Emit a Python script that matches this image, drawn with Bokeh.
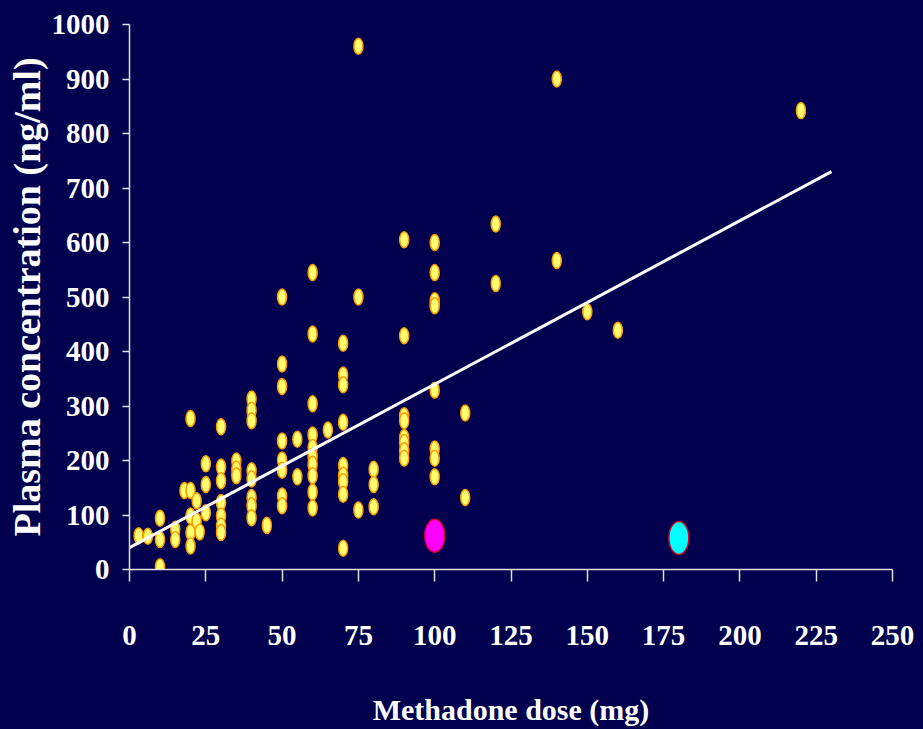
from bokeh.plotting import figure
from bokeh.models import Range1d, FixedTicker
from bokeh.embed import file_html
from bokeh.resources import INLINE

# Patient data: methadone dose (mg) vs plasma concentration (ng/ml)
dose = [3, 6, 10, 10, 10, 15, 15, 18, 20, 20, 20, 20, 20, 22, 22, 23, 25, 25, 25,
        30, 30, 30, 30, 30, 30, 30, 35, 35, 35,
        40, 40, 40, 40, 40, 40, 40, 40, 45,
        50, 50, 50, 50, 50, 50, 50, 50, 55, 55,
        60, 60, 60, 60, 60, 60, 60, 60, 60, 60, 65,
        70, 70, 70, 70, 70, 70, 70, 70, 70,
        75, 75, 75, 80, 80, 80,
        90, 90, 90, 90, 90, 90, 90, 90,
        100, 100, 100, 100, 100, 100, 100, 100,
        110, 110, 120, 120, 140, 140, 150, 160, 220]
conc = [62, 61, 94, 55, 5, 74, 55, 145, 145, 277, 98, 68, 43, 126, 89, 69, 194, 156, 104,
        262, 188, 163, 123, 98, 80, 68, 199, 184, 172,
        313, 292, 273, 181, 166, 132, 117, 95, 81,
        500, 377, 336, 236, 201, 182, 135, 117, 239, 170,
        545, 432, 304, 247, 224, 208, 193, 172, 142, 113, 256,
        415, 357, 339, 270, 191, 173, 161, 138, 39,
        960, 500, 109, 184, 156, 115,
        605, 429, 282, 273, 242, 233, 218, 204,
        600, 545, 493, 484, 329, 221, 204, 170,
        287, 132, 634, 525, 900, 567, 473, 439, 842]

# Highlighted cases
magenta_dose = [100]
magenta_conc = [62]
cyan_dose = [180]
cyan_conc = [58]

# Regression line end points
fit_dose = [0, 230]
fit_conc = [40, 730]

x_ticks = [0, 25, 50, 75, 100, 125, 150, 175, 200, 225, 250]
y_ticks = [0, 100, 200, 300, 400, 500, 600, 700, 800, 900, 1000]

BG = "#00004F"
AX = "#E0E0E0"
FONT = "Liberation Serif"

p = figure(width=923, height=729, output_backend="svg", toolbar_location=None,
           x_range=Range1d(0, 250), y_range=Range1d(0, 1000),
           min_border_left=129, min_border_right=31, min_border_top=24, min_border_bottom=160)
p.background_fill_color = BG
p.border_fill_color = BG
p.outline_line_color = None
p.grid.grid_line_color = None

p.ellipse(x=dose, y=conc, width=9, height=16, width_units="screen", height_units="screen",
          fill_color="#FFFF70", line_color="#FF9A00", line_width=1.5)
p.line(x=fit_dose, y=fit_conc, line_color="white", line_width=3)
p.ellipse(x=magenta_dose, y=magenta_conc, width=20, height=33, width_units="screen",
          height_units="screen", fill_color="#FF00FF", line_color="#D0002A", line_width=1.5)
p.ellipse(x=cyan_dose, y=cyan_conc, width=20, height=33, width_units="screen",
          height_units="screen", fill_color="#00FFFF", line_color="#D0002A", line_width=1.5)

p.xaxis.ticker = FixedTicker(ticks=x_ticks)
p.yaxis.ticker = FixedTicker(ticks=y_ticks)
for ax in (p.xaxis[0], p.yaxis[0]):
    ax.axis_line_color = AX
    ax.axis_line_width = 1.5
    ax.major_tick_line_color = AX
    ax.major_tick_line_width = 1.5
    ax.minor_tick_line_color = None
    ax.major_tick_in = 0
    ax.major_label_text_color = "white"
    ax.major_label_text_font = FONT
    ax.major_label_text_font_style = "bold"
    ax.major_label_text_font_size = "29px"
    ax.axis_label_text_color = "white"
    ax.axis_label_text_font = FONT
    ax.axis_label_text_font_style = "bold"

p.xaxis.major_tick_out = 12
p.xaxis.major_label_standoff = 44
p.xaxis.axis_label = "Methadone dose (mg)"
p.xaxis.axis_label_text_font_size = "30px"
p.xaxis.axis_label_standoff = 45

p.yaxis.major_tick_out = 7
p.yaxis.major_label_standoff = 13
p.yaxis.axis_label = "Plasma concentration (ng/ml)"
p.yaxis.axis_label_text_font_size = "38px"
p.yaxis.axis_label_standoff = 1

html = file_html(p, INLINE)
html = html.replace("<head>", "<head><style>html,body{background:%s;}</style>" % BG, 1)
open("out.html", "w").write(html)
